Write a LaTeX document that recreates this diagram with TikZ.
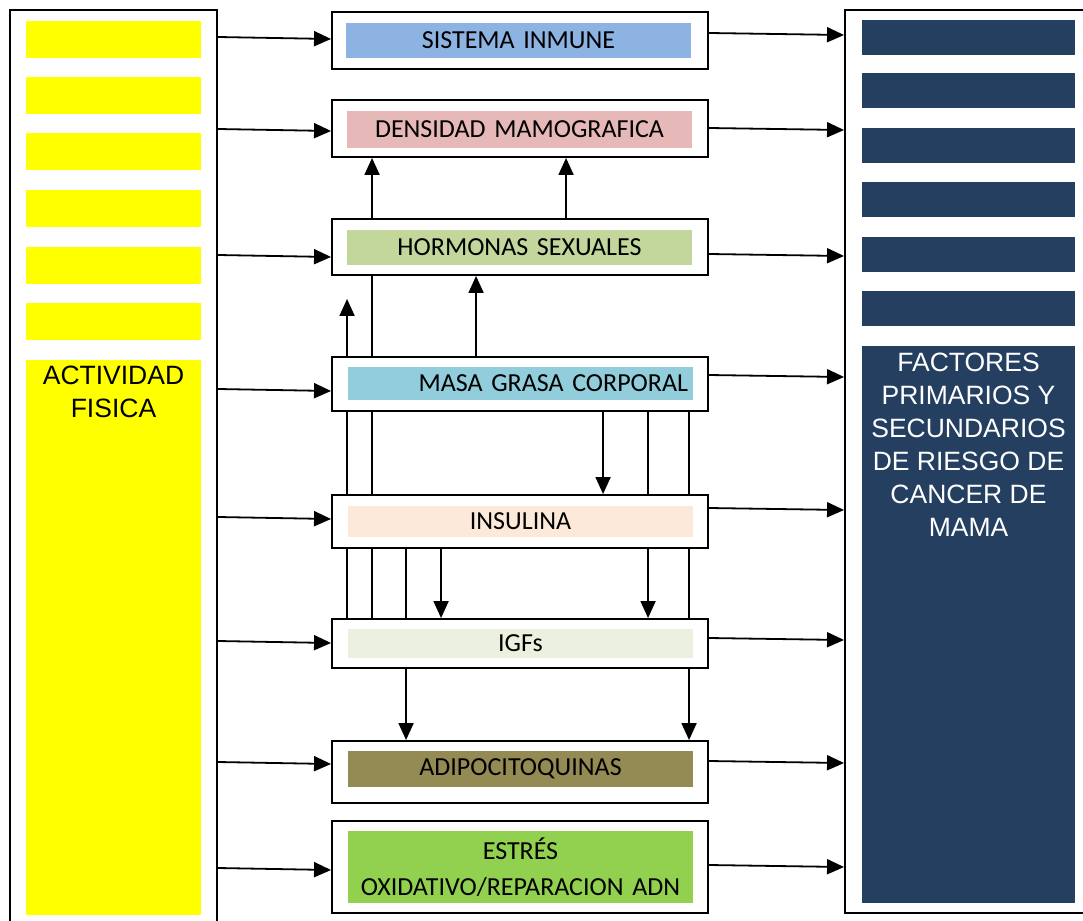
\documentclass[tikz,border=0pt]{standalone}
\usepackage{fontspec}
\setmainfont{Carlito}
\newfontfamily\arialf{Liberation Sans}
\usetikzlibrary{arrows.meta,calc,backgrounds}
\definecolor{amarillo}{RGB}{255,255,0}
\definecolor{marino}{RGB}{36,63,96}
\definecolor{cinm}{RGB}{141,179,226}
\definecolor{cden}{RGB}{230,185,184}
\definecolor{chor}{RGB}{195,214,155}
\definecolor{cmas}{RGB}{146,205,220}
\definecolor{cins}{RGB}{253,233,217}
\definecolor{cigf}{RGB}{235,241,222}
\definecolor{cadi}{RGB}{148,138,84}
\definecolor{cest}{RGB}{146,208,80}
\tikzset{
  marco/.style={draw, line width=1.9pt, inner sep=0pt},
  caja/.style={marco, fill=white, minimum width=376pt},
  tinta/.style={inner xsep=5pt, inner ysep=0pt, text width=335pt, align=center,
                font=\fontsize{26}{36}\selectfont},
  rotulo/.style={inner sep=0pt, align=center, font=\arialf\fontsize{26.5}{33}\selectfont},
  flecha/.style={-{Triangle[length=17pt,width=15pt]}, line width=1.8pt},
  linea/.style={line width=1.8pt}
}

\begin{document}
\begin{tikzpicture}[x=1pt, y=-1pt]
\useasboundingbox (0,0) rectangle (1083,920);
% columna izquierda
\node[marco, minimum width=207pt, minimum height=920pt] (act) at (113.5,470) {};
\foreach \y in {21,77,133,190,247,303}
  \fill[amarillo] (26,\y) rectangle (201,\y+37);
\fill[amarillo] (26,360) rectangle (201,915);
\node[rotulo, anchor=north] (actt) at (113.5,366) {ACTIVIDAD\\FISICA};
% columna derecha
\node[marco, minimum width=250pt, minimum height=903pt] (fac) at (970,461.5) {};
\foreach \y in {20,73,128,182,237,291}
  \fill[marino] (862,\y) rectangle (1075,\y+35);
\fill[marino] (862,346) rectangle (1075,903);
\node[rotulo, anchor=north, text=white] (fact) at (968.5,352.5)
  {FACTORES\\PRIMARIOS Y\\SECUNDARIOS\\DE RIESGO DE\\CANCER DE\\MAMA};
% cajas centrales
\node[caja, minimum height=57pt] (inm) at (520,40.5) {};
\node[tinta, fill=cinm, minimum height=35pt] (inmt) at (518.5,40.5) {SISTEMA INMUNE};
\node[caja, minimum height=57pt] (dens) at (520,128.5) {};
\node[tinta, fill=cden, minimum height=37pt] (denst) at (519.5,129.5) {DENSIDAD MAMOGRAFICA};
\node[caja, minimum height=56pt] (horm) at (520,247) {};
\node[tinta, fill=chor, minimum height=35pt] (hormt) at (519.5,247.5) {HORMONAS SEXUALES};
\node[caja, minimum height=54pt] (masa) at (520,384) {};
\node[tinta, fill=cmas, minimum height=33pt, align=right] (masat) at (520.5,383.5) {MASA GRASA CORPORAL};
\node[caja, minimum height=53pt] (ins) at (520,521.5) {};
\node[tinta, fill=cins, minimum height=31pt] (inst) at (520.5,521.5) {INSULINA};
\node[caja, minimum height=49pt] (igf) at (520,643.5) {};
\node[tinta, fill=cigf, minimum height=29pt] (igft) at (520.5,643.5) {IGFs};
\node[caja, minimum height=62pt] (adi) at (520,772) {};
\node[tinta, fill=cadi, minimum height=36pt] (adit) at (520.5,769) {ADIPOCITOQUINAS};
\node[caja, minimum height=92pt] (est) at (520,867) {};
\node[tinta, fill=cest, minimum height=72pt] (estt) at (520.5,867) {ESTRÉS\\OXIDATIVO/REPARACION ADN};
\coordinate (libre) at ([xshift=16pt, yshift=-23pt]horm.south west);
% conexiones verticales
\begin{scope}[on background layer]
\draw[flecha] ([xshift=41pt]horm.north west) -- ([xshift=41pt]dens.south west);
\draw[flecha] ([xshift=235pt]horm.north west) -- ([xshift=235pt]dens.south west);
\draw[linea] ([xshift=41pt]igf.north west) -- ([xshift=41pt]horm.south west);
\draw[flecha] ([xshift=16pt]igf.north west) -- (libre);
\draw[flecha] ([xshift=145pt]masa.north west) -- ([xshift=145pt]horm.south west);
\draw[flecha] ([xshift=272pt]masa.south west) -- ([xshift=272pt]ins.north west);
\draw[flecha] ([xshift=317pt]masa.south west) -- ([xshift=317pt]igf.north west);
\draw[flecha] ([xshift=358pt]masa.south west) -- ([xshift=358pt]adi.north west);
\draw[flecha] ([xshift=75pt]ins.south west) -- ([xshift=75pt]adi.north west);
\draw[flecha] ([xshift=110pt]ins.south west) -- ([xshift=110pt]igf.north west);
\end{scope}
% conexiones horizontales
\foreach \n/\a/\b in {inm/-2.5/-6.5, dens/1.5/0.5, horm/9/8, masa/6/-8,
                      ins/-3.5/-12.5, igf/-1.5/-4.5, adi/-9/-10, est/2/-1}{
  \draw[flecha] ($(act.east |- \n.west)+(0,\a-1)$) -- ($(\n.west)+(0,\a+1)$);
  \draw[flecha] ($(\n.east)+(0,\b-1)$) -- ($(fac.west |- \n.east)+(0,\b+1)$);
}
\end{tikzpicture}
\end{document}
